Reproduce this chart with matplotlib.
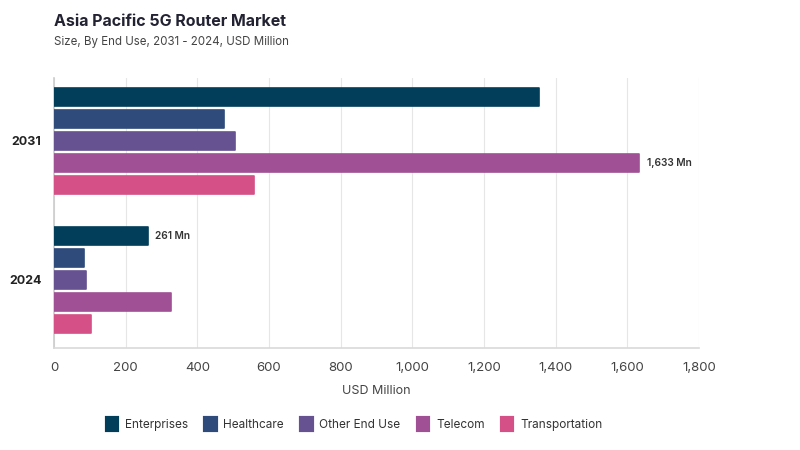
import numpy as np
import matplotlib.pyplot as plt
from matplotlib.patches import Patch

plt.rcParams['font.family'] = ['Inter', 'DejaVu Sans']

years = ['2031', '2024']
segments = ['Enterprises', 'Healthcare', 'Other End Use', 'Telecom', 'Transportation']
colors = ['#023e5a', '#2f4b7c', '#665191', '#a05195', '#d45087']
values_2031 = [1353, 475, 506, 1633, 557]
values_2024 = [261, 84, 89, 327, 102]

fig = plt.figure(figsize=(8, 4.5), dpi=100)
ax = fig.add_axes([0.0675, 0.2267, 0.8063, 0.6])

centers = [1, 0]
step = 0.158
height = 0.135
for i, seg in enumerate(segments):
    offs = (2 - i) * step
    vals = [values_2031[i], values_2024[i]]
    ax.barh([c + offs for c in centers], vals, height=height, color=colors[i],
            edgecolor=colors[i], linewidth=1.2, joinstyle='round', zorder=3)

# value labels
ax.text(values_2031[3] + 22, 1 - step, '{:,} Mn'.format(values_2031[3]),
        va='center', ha='left', fontsize=7.3, color='#333333', fontweight='semibold')
ax.text(values_2024[0] + 22, 0 + 2 * step, '{:,} Mn'.format(values_2024[0]),
        va='center', ha='left', fontsize=7.3, color='#333333', fontweight='semibold')

ax.set_xlim(0, 1800)
ax.set_ylim(-0.489, 1.453)
ax.set_xticks(np.arange(0, 1801, 200))
ax.set_xticklabels(['{:,}'.format(v) for v in range(0, 1801, 200)])
ax.set_yticks(centers)
ax.set_yticklabels(years, fontweight='bold', fontsize=9, color='#222222')
ax.tick_params(axis='x', length=0, labelsize=9.5, labelcolor='#444444', pad=10)
ax.tick_params(axis='y', length=0, pad=9)
ax.grid(axis='x', color='#e6e6e6', linewidth=0.8, zorder=0)
for s in ['top', 'right']:
    ax.spines[s].set_visible(False)
ax.spines['left'].set_color('#cccccc')
ax.spines['left'].set_linewidth(1.2)
ax.spines['bottom'].set_color('#d9d9d9')
ax.spines['bottom'].set_linewidth(1.2)
ax.set_xlabel('USD Million', fontsize=9, color='#444444', labelpad=8)

fig.text(0.0675, 0.953, 'Asia Pacific 5G Router Market', fontsize=11.5,
         fontweight='bold', color='#222233', va='center')
fig.text(0.0675, 0.906, 'Size, By End Use, 2031 - 2024, USD Million', fontsize=8.3,
         color='#444444', va='center')

handles = [Patch(facecolor=c, edgecolor=c, linewidth=3, joinstyle='round', label=s)
           for s, c in zip(segments, colors)]
fig.legend(handles=handles, loc='center', bbox_to_anchor=(0.443, 0.057), ncol=5,
           frameon=False, fontsize=8.5, handlelength=0.9, handleheight=1.25,
           columnspacing=1.45, handletextpad=0.65, labelcolor='#333333')

fig.savefig('out.png', dpi=100)
